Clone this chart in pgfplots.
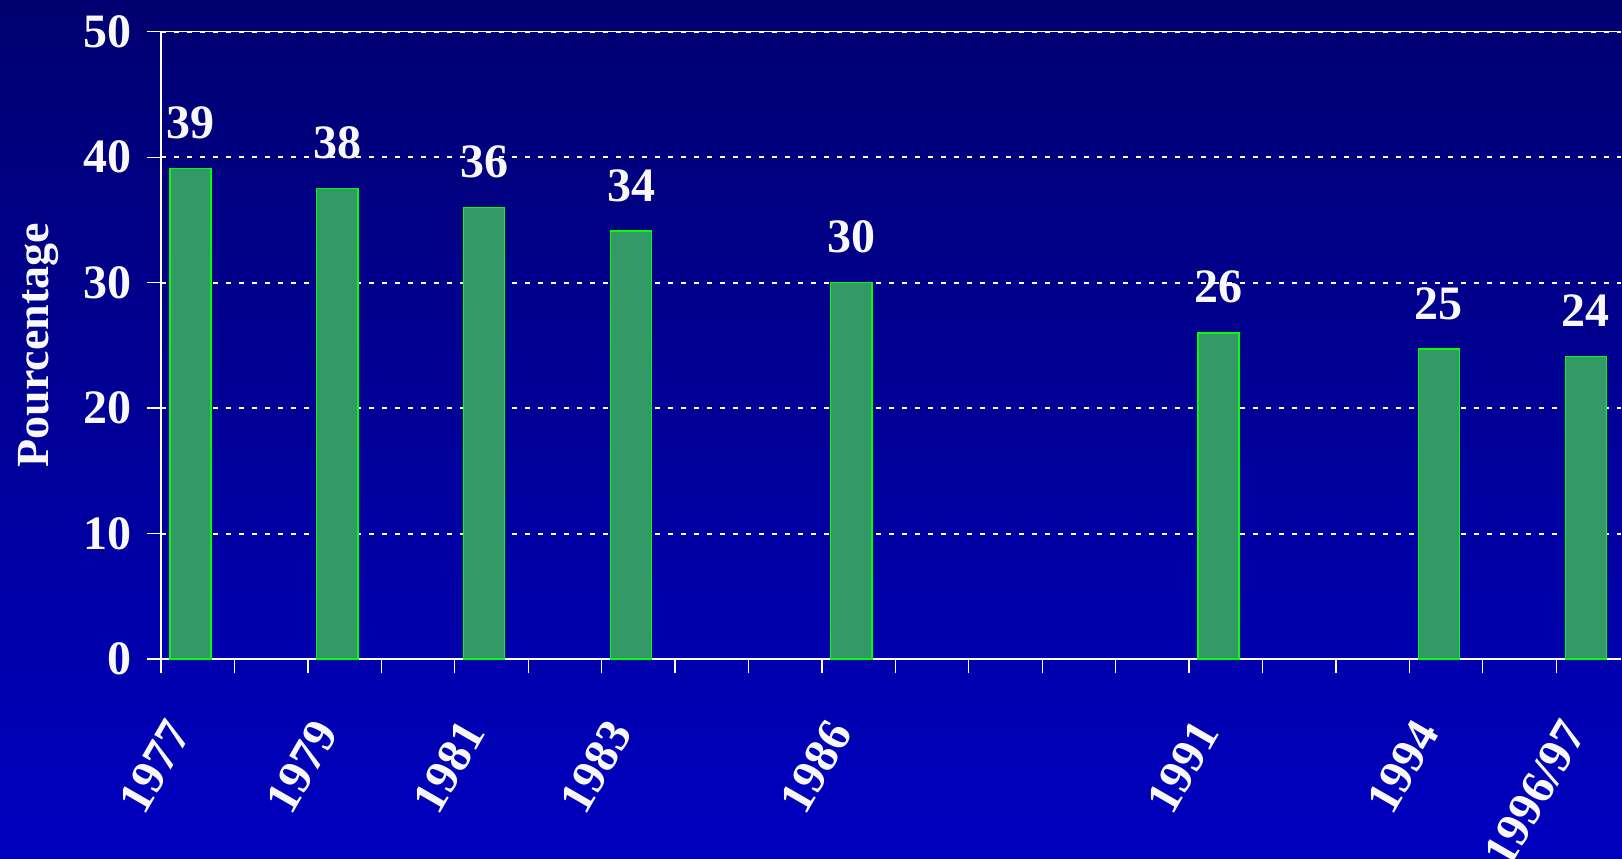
\documentclass[border=0pt]{standalone}
\usepackage{pgfplots}
\usepackage{pgfplotstable}
\pgfplotsset{compat=1.18}
\usepackage{fontspec}
\setmainfont{Liberation Serif}
\definecolor{bgtop}{HTML}{000070}
\definecolor{bgbot}{HTML}{0000C0}
\definecolor{barfill}{HTML}{339966}
\definecolor{baredge}{HTML}{00FF00}
\definecolor{txt}{HTML}{F8F8F8}
\pgfplotstableread{
x y lab
1977 39.1 39
1979 37.5 38
1981 36.0 36
1983 34.1 34
1986 30.0 30
1991 26.0 26
1994 24.7 25
1996 24.1 24
}\datatable
\begin{document}
\begin{tikzpicture}
\useasboundingbox (0,0) rectangle (811pt,429pt);
\shade[top color=bgtop, bottom color=bgbot] (0,0) rectangle (811pt,429pt);
\begin{axis}[
  at={(80.5pt,99.5pt)}, anchor=south west,
  scale only axis, width=730pt, height=313.65pt,
  xmin=1976.6, xmax=1996.48, ymin=0, ymax=50,
  axis x line*=bottom, axis y line*=left,
  axis line style={white, line width=0.65pt},
  tick align=outside, major tick length=7pt,
  tick style={white, line width=0.65pt},
  xtick={1976.6,1977.6,...,1995.6}, xticklabels={},
  ytick={0,10,20,30,40,50},
  yticklabel style={xshift=-4pt},
  ymajorgrids,
  grid style={white, line width=1pt, dash pattern=on 2.5pt off 4pt},
  extra y ticks={50}, extra y tick labels={},
  extra y tick style={grid style={solid, white, line width=0.65pt}},
  extra x ticks={1977,1979,1981,1983,1986,1991,1994,1996},
  extra x tick labels={1977,1979,1981,1983,1986,1991,1994,1996/97},
  extra x tick style={major tick length=0pt,
    xticklabel style={anchor=east, xshift=-4pt, yshift=-30pt, rotate=60}},
  /pgf/number format/assume math mode=true,
  tick label style={font=\fontsize{24}{28}\selectfont\bfseries, text=txt},
  ylabel={Pourcentage},
  ylabel style={at={(axis description cs:-0.0651,0.5)}, anchor=south,
    font=\fontsize{23}{27}\selectfont\bfseries, text=txt},
  ybar, bar width=0.56,
  nodes near coords,
  point meta=explicit symbolic,
  every node near coord/.append style={anchor=base, yshift=15pt,
    font=\fontsize{24}{28}\selectfont\bfseries, text=txt},
]
\addplot[fill=barfill, draw=baredge, line width=0.7pt]
  table[x=x, y=y, meta=lab]{\datatable};
\end{axis}
\end{tikzpicture}
\end{document}
